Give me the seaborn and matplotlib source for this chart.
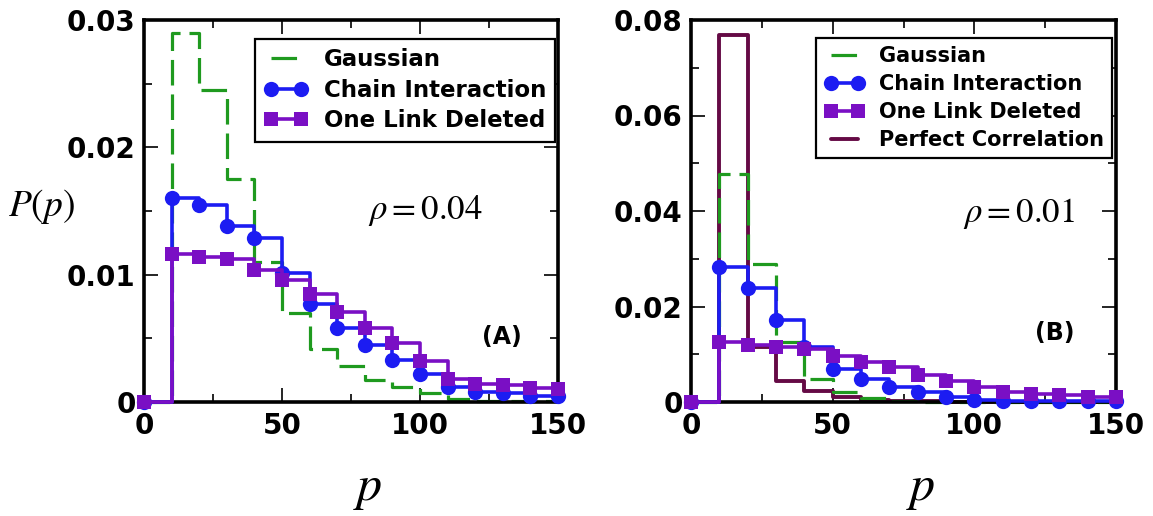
import numpy as np
import pandas as pd
import matplotlib
matplotlib.use("Agg")
import matplotlib.pyplot as plt
import seaborn as sns
from matplotlib.ticker import FixedLocator, MultipleLocator

# ---------------- data ----------------
p_bins = [0, 10, 20, 30, 40, 50, 60, 70, 80, 90, 100, 110, 120, 130, 140, 150]

# panel A (rho = 0.04)
gauss_A = [0, 0.0290, 0.0245, 0.0175, 0.0110, 0.0070, 0.0042, 0.0028, 0.0017,
           0.0012, 0.0007, 0.00026, 0.0001, 0.0001, 0.00005, 0.00005]
chain_A = [0, 0.0160, 0.0155, 0.0138, 0.0129, 0.0101, 0.0077, 0.0058, 0.0045,
           0.0033, 0.0022, 0.0012, 0.0008, 0.0007, 0.0005, 0.0005]
onelink_A = [0, 0.0116, 0.0114, 0.0112, 0.0104, 0.0096, 0.0085, 0.0071, 0.0058,
             0.0046, 0.0032, 0.0018, 0.0014, 0.0013, 0.0011, 0.0010]

# panel B (rho = 0.01)
gauss_B = [0, 0.0477, 0.0289, 0.0125, 0.0049, 0.0021, 0.0008, 0.0003, 0.0001,
           0.00005, 0, 0, 0, 0, 0, 0]
chain_B = [0, 0.0282, 0.0239, 0.0172, 0.0116, 0.0070, 0.0049, 0.0031, 0.0021,
           0.0010, 0.0005, 0.0003, 0.0002, 0.0002, 0.0002, 0.0002]
onelink_B = [0, 0.0125, 0.0120, 0.0115, 0.0111, 0.0097, 0.0083, 0.0073, 0.0056,
             0.0045, 0.0031, 0.0021, 0.0017, 0.0014, 0.0010, 0.0010]
perfect_B = [0, 0.0769, 0.0115, 0.0045, 0.0024, 0.0010, 0.0005, 0.0003, 0.0002,
             0.0001, 0.0001, 0, 0, 0, 0, 0]

labels = ["Gaussian", "Chain Interaction", "One Link Deleted", "Perfect Correlation"]
x_ticks = [0, 50, 100, 150]
x_tick_labels = ["0", "50", "100", "150"]
yA_ticks = [0, 0.01, 0.02, 0.03]
yA_tick_labels = ["0", "0.01", "0.02", "0.03"]
yB_ticks = [0, 0.02, 0.04, 0.06, 0.08]
yB_tick_labels = ["0", "0.02", "0.04", "0.06", "0.08"]

# ---------------- style ----------------
sns.set_theme(style="ticks")
plt.rcParams["font.family"] = ["DejaVu Sans"]
plt.rcParams["mathtext.fontset"] = "stix"
plt.rcParams["text.color"] = "black"
plt.rcParams["xtick.color"] = "black"
plt.rcParams["ytick.color"] = "black"

C_GREEN = "#1f9a1f"
C_BLUE = "#1c1cf2"
C_PURPLE = "#7a0fc4"
C_MAROON = "#650a45"

fig = plt.figure(figsize=(11.53, 5.16), dpi=100)
W, H = 1153, 516


def add_ax(l, r, t, b):
    return fig.add_axes([l / W, 1 - b / H, (r - l) / W, (b - t) / H])


axA = add_ax(144, 558, 20, 402)
axB = add_ax(691, 1116, 20, 402)


def draw(ax, y, label, color, kind, z):
    df = pd.DataFrame({"p": p_bins, "P": y})
    kw = dict(x="p", y="P", data=df, ax=ax, color=color, label=label,
              drawstyle="steps-post", clip_on=False, errorbar=None,
              zorder=z, markeredgewidth=0, markeredgecolor=color)
    if kind == "dash":
        sns.lineplot(linewidth=2.3, linestyle=(0, (8, 2.8)), marker=None, **kw)
    elif kind == "circle":
        sns.lineplot(linewidth=2.6, marker="o", markersize=11, **kw)
    elif kind == "square":
        sns.lineplot(linewidth=2.6, marker="s", markersize=10.5, **kw)
    else:
        sns.lineplot(linewidth=2.8, marker=None, **kw)


draw(axA, gauss_A, labels[0], C_GREEN, "dash", 2)
draw(axA, chain_A, labels[1], C_BLUE, "circle", 3)
draw(axA, onelink_A, labels[2], C_PURPLE, "square", 4)

draw(axB, perfect_B, labels[3], C_MAROON, "solid", 2)
draw(axB, gauss_B, labels[0], C_GREEN, "dash", 2.5)
draw(axB, chain_B, labels[1], C_BLUE, "circle", 3)
draw(axB, onelink_B, labels[2], C_PURPLE, "square", 4)


def style_ax(ax, ymax, yticks, ylabels, yminor):
    ax.set_xlim(0, 150)
    ax.set_ylim(0, ymax)
    ax.xaxis.set_major_locator(FixedLocator(x_ticks))
    ax.set_xticklabels(x_tick_labels)
    ax.xaxis.set_minor_locator(MultipleLocator(25))
    ax.yaxis.set_major_locator(FixedLocator(yticks))
    ax.set_yticklabels(ylabels)
    ax.yaxis.set_minor_locator(MultipleLocator(yminor))
    ax.tick_params(which="both", direction="in", top=True, right=True,
                   width=1.2, color="black")
    ax.tick_params(which="major", length=10)
    ax.tick_params(which="minor", length=6)
    ax.tick_params(axis="x", which="major", pad=7, labelsize=20)
    ax.tick_params(axis="y", which="major", pad=6, labelsize=20)
    for lab in ax.get_xticklabels() + ax.get_yticklabels():
        lab.set_fontweight("bold")
        lab.set_color("black")
    for s in ax.spines.values():
        s.set_linewidth(2.6)
        s.set_color("black")
        s.set_visible(True)
    ax.set_xlabel("")
    ax.set_ylabel("")
    ax.set_facecolor("white")
    ax.text(0.541, -0.225, "$p$", transform=ax.transAxes, ha="center",
            va="center", fontsize=36)


style_ax(axA, 0.03, yA_ticks, yA_tick_labels, 0.005)
style_ax(axB, 0.08, yB_ticks, yB_tick_labels, 0.01)

axA.text(81, 0.015, r"$\rho = 0.04$", fontsize=25, ha="left", va="center")
axB.text(96, 0.0395, r"$\rho = 0.01$", fontsize=25, ha="left", va="center")
axA.text(122.5, 0.0051, "(A)", fontsize=17, fontweight="bold", ha="left", va="center")
axB.text(121.4, 0.0144, "(B)", fontsize=17, fontweight="bold", ha="left", va="center")

fig.text(8 / W, 1 - 207 / H, "$P(p)$", fontsize=27, ha="left", va="center")


def make_legend(ax, order, anchor, size, spacing):
    handles, labs = ax.get_legend_handles_labels()
    hmap = dict(zip(labs, handles))
    leg = ax.legend([hmap[k] for k in order], order, loc="upper right",
                    bbox_to_anchor=anchor, borderaxespad=0, frameon=True,
                    fancybox=False, framealpha=1, edgecolor="black",
                    prop={"weight": "bold", "size": size}, numpoints=2,
                    handlelength=1.9, handletextpad=0.7, labelspacing=spacing,
                    borderpad=0.4)
    leg.get_frame().set_linewidth(1.6)
    leg.set_zorder(10)
    for t in leg.get_texts():
        t.set_color("black")
    return leg


make_legend(axA, labels[:3], (0.993, 0.950), 16.5, 0.33)
make_legend(axB, labels, (0.991, 0.953), 15, 0.38)

fig.savefig("out.png", dpi=100, facecolor="white")
